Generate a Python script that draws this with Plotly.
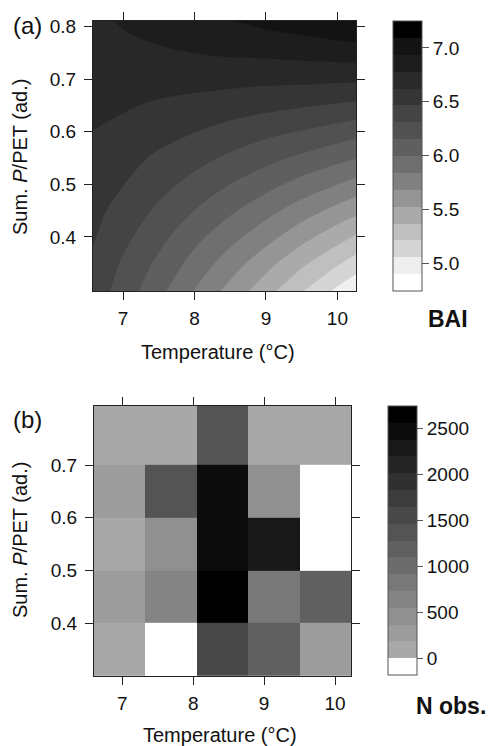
import plotly.graph_objects as go

# ---------------- data ----------------
# Panel (a): BAI surface
temp_grid = [6.58, 7.0, 7.5, 8.0, 8.5, 9.0, 9.5, 10.0, 10.26]
ppet_grid = [0.297, 0.35, 0.40, 0.45, 0.50, 0.55, 0.60, 0.65, 0.70, 0.75, 0.811]
bai = [
    [6.40, 6.24, 6.04, 5.83, 5.63, 5.43, 5.22, 5.02, 4.92],
    [6.44, 6.29, 6.12, 5.94, 5.76, 5.58, 5.40, 5.23, 5.14],
    [6.48, 6.35, 6.20, 6.04, 5.89, 5.74, 5.58, 5.43, 5.35],
    [6.51, 6.41, 6.28, 6.15, 6.02, 5.89, 5.76, 5.63, 5.57],
    [6.55, 6.47, 6.36, 6.26, 6.15, 6.05, 5.94, 5.84, 5.78],
    [6.59, 6.52, 6.44, 6.36, 6.28, 6.20, 6.12, 6.04, 6.00],
    [6.62, 6.58, 6.52, 6.47, 6.41, 6.35, 6.30, 6.24, 6.21],
    [6.66, 6.64, 6.60, 6.57, 6.54, 6.51, 6.48, 6.45, 6.43],
    [6.70, 6.69, 6.69, 6.68, 6.67, 6.66, 6.66, 6.65, 6.65],
    [6.73, 6.75, 6.76, 6.78, 6.80, 6.81, 6.83, 6.85, 6.86],
    [6.75, 6.79, 6.84, 6.88, 6.93, 6.98, 7.02, 7.07, 7.08],
]
bai_ticks = [5.0, 5.5, 6.0, 6.5, 7.0]

# Panel (b): number of observations per temperature x P/PET bin
temp_bin_edges = [6.6, 7.325, 8.05, 8.775, 9.5, 10.225]
ppet_bin_edges = [0.3, 0.4, 0.5, 0.6, 0.7, 0.82]
n_obs = [
    [110, 0, 1540, 1150, 290],
    [270, 650, 2600, 850, 1180],
    [150, 470, 2420, 2300, 0],
    [280, 1370, 2450, 460, 0],
    [100, 120, 1350, 110, 90],
]
nobs_ticks = [0, 500, 1000, 1500, 2000, 2500]

temp_ticks = [7, 8, 9, 10]
ppet_ticks_a = [0.4, 0.5, 0.6, 0.7, 0.8]
ppet_ticks_b = [0.4, 0.5, 0.6, 0.7]

# ---------------- styling ----------------
W, H = 492, 746
FONT = "Liberation Sans, Arial, sans-serif"
TXT = "#111111"

grays_a = [255, 224, 202, 181, 160, 138, 119, 103, 87, 75, 61, 46, 35, 24, 15, 0]
grays_b = [255, 168, 156, 144, 132, 120, 108, 96, 84, 72, 60, 48, 36, 24, 12, 0]


def g(v):
    return "rgb(%d,%d,%d)" % (v, v, v)


# contour colour map: band k centre sits at (k+0.5)/15 of plotly's contour colour domain
cs_a = [[0.0, g(grays_a[0])]]
for k in range(15):
    cs_a.append([(k + 0.5) / 15.0, g(grays_a[k])])
cs_a.append([1.0, g(grays_a[15])])

cs_b = []
for k in range(16):
    cs_b.append([k / 16.0, g(grays_b[k])])
    cs_b.append([(k + 1) / 16.0, g(grays_b[k])])

zmin_a, zmax_a = 4.74, 7.25
step_a = (zmax_a - zmin_a) / 16.0


def px_x(p):
    return p / W


def px_y(p):
    return 1 - p / H


fig = go.Figure()

fig.add_trace(go.Contour(
    x=temp_grid, y=ppet_grid, z=bai, xaxis="x", yaxis="y",
    zmin=zmin_a, zmax=zmax_a, autocontour=False,
    contours=dict(start=zmin_a + step_a, end=zmin_a + 15 * step_a, size=step_a,
                  coloring="fill", showlines=False),
    line=dict(width=0),
    colorscale=cs_a,
    colorbar=dict(
        x=px_x(393), xanchor="left", xpad=0,
        y=px_y(21), yanchor="top", ypad=0,
        len=270, lenmode="pixels", thickness=29, thicknessmode="pixels",
        outlinewidth=1, outlinecolor="#555555",
        tickvals=bai_ticks, tickformat=".1f", tickprefix=" ", ticks="outside", ticklen=7,
        tickcolor="#555555", tickfont=dict(family=FONT, size=19, color=TXT),
    ),
    hoverinfo="skip",
))

fig.add_trace(go.Heatmap(
    x=temp_bin_edges, y=ppet_bin_edges, z=n_obs, xaxis="x2", yaxis="y2",
    zmin=-180, zmax=2740, colorscale=cs_b,
    colorbar=dict(
        x=px_x(388), xanchor="left", xpad=0,
        y=px_y(406), yanchor="top", ypad=0,
        len=269, lenmode="pixels", thickness=29, thicknessmode="pixels",
        outlinewidth=1, outlinecolor="#555555",
        tickvals=nobs_ticks, tickprefix=" ", ticks="outside", ticklen=6,
        tickcolor="#555555", tickfont=dict(family=FONT, size=19, color=TXT),
    ),
    hoverinfo="skip",
))

axis_common = dict(
    showline=True, linecolor="#222222", linewidth=1, mirror="ticks",
    ticks="outside", ticklen=8, tickcolor="#222222", tickwidth=1,
    showgrid=False, zeroline=False, automargin=False,
    tickfont=dict(family=FONT, size=19, color=TXT),
)

fig.update_layout(
    width=W, height=H,
    margin=dict(l=0, r=0, t=0, b=0, pad=0, autoexpand=False),
    paper_bgcolor="white", plot_bgcolor="white",
    showlegend=False,
    xaxis=dict(domain=[px_x(93), px_x(356)], range=[6.58, 10.26], anchor="y",
               tickvals=temp_ticks, ticklabelstandoff=2, **axis_common),
    yaxis=dict(domain=[px_y(291), px_y(21)], range=[0.297, 0.811], anchor="x",
               tickvals=ppet_ticks_a, tickformat=".1f", ticklabelstandoff=4, **axis_common),
    xaxis2=dict(domain=[px_x(94), px_x(351)], range=[6.6, 10.225], anchor="y2",
                tickvals=temp_ticks, ticklabelstandoff=2, **axis_common),
    yaxis2=dict(domain=[px_y(676), px_y(406)], range=[0.3, 0.812], anchor="x2",
                tickvals=ppet_ticks_b, tickformat=".1f", ticklabelstandoff=4, **axis_common),
)

ann_font = dict(family=FONT, size=20, color=TXT)
annotations = [
    dict(text="(a)", x=px_x(11), y=px_y(25), xanchor="left", yanchor="middle",
         font=dict(family=FONT, size=24, color=TXT)),
    dict(text="(b)", x=px_x(11), y=px_y(419), xanchor="left", yanchor="middle",
         font=dict(family=FONT, size=24, color=TXT)),
    dict(text="Sum. <i>P</i>/PET (ad.)", x=px_x(20), y=px_y(157), textangle=-90,
         xanchor="center", yanchor="middle", font=ann_font),
    dict(text="Sum. <i>P</i>/PET (ad.)", x=px_x(20), y=px_y(540), textangle=-90,
         xanchor="center", yanchor="middle", font=ann_font),
    dict(text="Temperature (°C)", x=px_x(218), y=px_y(352), xanchor="center",
         yanchor="middle", font=ann_font),
    dict(text="Temperature (°C)", x=px_x(220), y=px_y(735), xanchor="center",
         yanchor="middle", font=ann_font),
    dict(text="<b>BAI</b>", x=px_x(448), y=px_y(319), xanchor="center",
         yanchor="middle", font=dict(family=FONT, size=23, color=TXT)),
    dict(text="<b>N obs.</b>", x=px_x(451), y=px_y(706), xanchor="center",
         yanchor="middle", font=dict(family=FONT, size=23, color=TXT)),
]
for a in annotations:
    a.update(xref="paper", yref="paper", showarrow=False)
fig.update_layout(annotations=annotations)

fig.write_html(
    "out.html",
    config={"displayModeBar": False, "staticPlot": True},
    post_script="document.body.style.margin='0';document.body.style.overflow='hidden';",
)
